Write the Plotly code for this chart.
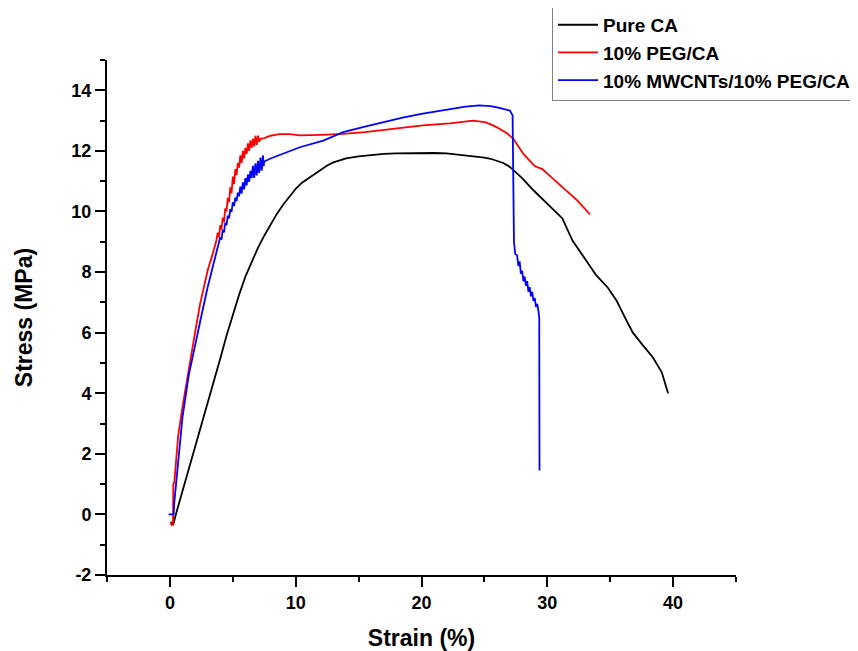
import plotly.graph_objects as go

# Pure CA
pure_x = [0.05, 0.27, 0.5, 1.0, 1.5, 2.0, 2.5, 3.0, 3.5, 4.0, 4.5, 5.0, 5.5, 6.0, 6.5, 7.0, 7.5, 8.0, 8.5,
          9.0, 9.5, 10.0, 10.5, 11.0, 11.5, 12.0, 12.5, 13.0, 14.0, 15.0, 16.0, 17.0, 18.0, 19.0, 20.0,
          21.0, 22.0, 23.0, 24.0, 25.0, 25.5, 26.0, 26.5, 27.0, 27.5, 28.0, 28.9, 30.0, 31.2, 32.0, 33.1,
          33.9, 34.8, 35.5, 36.3, 36.8, 37.6, 38.4, 39.1, 39.6]
pure_y = [-0.25, -0.32, 0.04, 0.76, 1.49, 2.22, 2.95, 3.68, 4.41, 5.14, 5.9, 6.6, 7.25, 7.85, 8.35, 8.8, 9.2, 9.57, 9.92,
          10.22, 10.5, 10.75, 10.95, 11.1, 11.25, 11.4, 11.52, 11.62, 11.75, 11.82, 11.87, 11.9, 11.92, 11.93, 11.94,
          11.93, 11.92, 11.88, 11.84, 11.78, 11.74, 11.68, 11.6, 11.48, 11.3, 11.1, 10.7, 10.26, 9.77, 9.04, 8.38,
          7.89, 7.49, 7.06, 6.4, 6.0, 5.58, 5.18, 4.69, 4.0]

# 10% PEG/CA
peg_x = [0.05, 0.15, 0.25, 0.27, 0.35, 0.66, 1.0, 1.5, 2.0, 2.4, 3.0, 3.4, 3.7,
         3.8, 3.9, 4.0, 4.1, 4.2, 4.3, 4.4, 4.5, 4.6, 4.7, 4.8, 4.9, 5.0, 5.1, 5.2, 5.3, 5.4, 5.5,
         5.6, 5.7, 5.8, 5.9, 6.0, 6.1, 6.2, 6.3, 6.4, 6.5, 6.6, 6.7, 6.8, 6.9, 7.0, 7.1, 7.2,
         7.5, 8.0, 8.7, 9.5, 10.33, 12.0, 13.78, 15.5, 16.96, 18.5, 20.1, 22.26, 24.1, 25.04, 25.6,
         26.2, 26.8, 27.3, 27.8, 28.1, 29.0, 29.6, 30.4, 31.2, 32.4, 33.4]
peg_y = [-0.3, -0.35, -0.3, 1.0, 1.05, 2.6, 3.55, 4.85, 6.0, 6.95, 8.05, 8.6, 9.05,
         9.3, 9.15, 9.55, 9.4, 9.8, 9.65, 10.1, 10.0, 10.45, 10.3, 10.8, 10.6, 11.15, 10.9, 11.4, 11.2, 11.6, 11.45,
         11.85, 11.6, 12.0, 11.75, 12.1, 11.9, 12.25, 12.0, 12.35, 12.1, 12.4, 12.15, 12.5, 12.2, 12.5, 12.3, 12.4,
         12.42, 12.5, 12.55, 12.55, 12.51, 12.53, 12.56, 12.62, 12.69, 12.77, 12.84, 12.91, 13.0, 12.95, 12.86,
         12.73, 12.58, 12.4, 12.07, 11.9, 11.5, 11.4, 11.1, 10.8, 10.36, 9.9]

# 10% MWCNTs/10% PEG/CA
cnt_x = [-0.1, 0.3, 0.35, 0.53, 1.0, 1.5, 2.12, 2.5, 3.0, 3.5,
         4.0, 4.1, 4.2, 4.3, 4.4, 4.5, 4.6, 4.7, 4.8, 4.9, 5.0, 5.1, 5.2, 5.3, 5.4, 5.5,
         5.6, 5.7, 5.8, 5.9, 6.0, 6.1, 6.2, 6.3, 6.4, 6.5, 6.6, 6.7, 6.8, 6.9, 7.0, 7.1, 7.2, 7.3, 7.4, 7.45, 7.5,
         8.0, 9.0, 10.33, 12.19, 13.78, 15.5, 16.96, 18.5, 20.1, 22.26, 23.5, 24.6, 25.5, 26.2, 27.03, 27.24,
         27.28, 27.3, 27.35, 27.45, 27.6, 27.7, 27.8, 27.9, 28.0, 28.1, 28.2, 28.3, 28.4, 28.5, 28.6, 28.7,
         28.8, 28.9, 29.0, 29.1, 29.2, 29.3, 29.36, 29.38]
cnt_y = [0.0, 0.0, 0.4, 1.23, 3.2, 4.6, 5.75, 6.55, 7.5, 8.35,
         9.15, 9.07, 9.39, 9.31, 9.63, 9.55, 9.86, 9.77, 10.08, 9.99, 10.3, 10.18, 10.46, 10.34, 10.62, 10.5,
         10.82, 10.59, 10.96, 10.73, 11.1, 10.86, 11.22, 10.98, 11.34, 11.1, 11.51, 11.11, 11.59, 11.19, 11.67, 11.27,
         11.78, 11.35, 11.85, 11.5, 11.65,
         11.75, 11.9, 12.12, 12.34, 12.62, 12.8, 12.95, 13.1, 13.23, 13.39, 13.46, 13.5, 13.48, 13.42, 13.33, 13.17,
         12.0, 10.1, 9.0, 8.6, 8.55, 8.2, 8.35, 7.95, 8.05, 7.7, 7.85, 7.55, 7.7, 7.35, 7.5, 7.2,
         7.35, 7.05, 7.15, 6.85, 6.95, 6.7, 6.5, 1.45]

# y tick labels (plain hyphen minus as in the original)
y_tick_vals = [-2, 0, 2, 4, 6, 8, 10, 12, 14]
y_tick_text = ["-2", "0", "2", "4", "6", "8", "10", "12", "14"]

series = [
    ("Pure CA", pure_x, pure_y, "black"),
    ("10% PEG/CA", peg_x, peg_y, "red"),
    ("10% MWCNTs/10% PEG/CA", cnt_x, cnt_y, "blue"),
]

fig = go.Figure()
for name, xs, ys, col in series:
    fig.add_trace(go.Scatter(x=xs, y=ys, mode="lines", name=name,
                             line=dict(color=col, width=1.8)))

FAM = "Liberation Sans, Arial, sans-serif"
tickfont = dict(family=FAM, size=18, color="black", weight="bold")
titlefont = dict(family=FAM, size=23, color="black", weight="bold")

# the page body adds an 8 px offset, so the figure is 850x643
fig.update_layout(
    width=850, height=643,
    margin=dict(l=99, r=122, t=52, b=76, autoexpand=False),
    plot_bgcolor="white", paper_bgcolor="white",
    showlegend=True,
    legend=dict(x=0.7075, y=1.107, xanchor="left", yanchor="top",
                bordercolor="#808080", borderwidth=1, bgcolor="white",
                font=dict(family=FAM, size=19, color="black", weight="bold"),
                tracegroupgap=0, itemwidth=40),
    xaxis=dict(range=[-5, 45], tick0=0, dtick=10, ticks="outside", ticklen=10, tickwidth=2,
               tickcolor="black", showline=True, linecolor="black", linewidth=2,
               showgrid=False, zeroline=False, tickfont=tickfont,
               title=dict(text="Strain (%)", font=titlefont, standoff=18),
               minor=dict(dtick=5, tick0=0, ticks="outside", ticklen=5, tickwidth=2, tickcolor="black", showgrid=False)),
    yaxis=dict(range=[-2, 15], tickmode="array", tickvals=y_tick_vals, ticktext=y_tick_text,
               ticks="outside", ticklen=10, tickwidth=2,
               tickcolor="black", showline=True, linecolor="black", linewidth=2,
               showgrid=False, zeroline=False, tickfont=tickfont,
               title=dict(text="Stress (MPa)", font=titlefont, standoff=32),
               minor=dict(tickmode="linear", dtick=1, tick0=0, ticks="outside", ticklen=5, tickwidth=2,
                          tickcolor="black", showgrid=False)),
)

fig.write_html("out.html")
